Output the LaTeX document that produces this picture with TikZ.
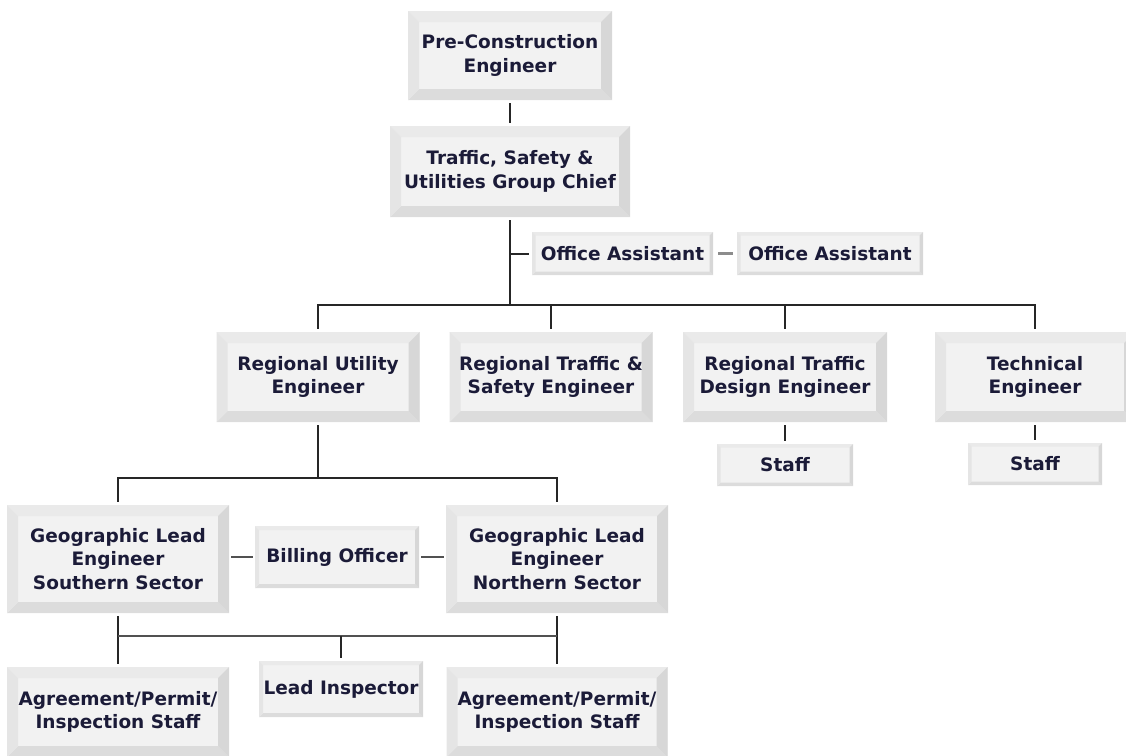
\documentclass[tikz,border=0pt]{standalone}
\usepackage{fontspec}
\setmainfont{DejaVu Sans}
\usepackage{tikz}
\usetikzlibrary{positioning}
\definecolor{facegray}{HTML}{F2F2F2}
\definecolor{toplight}{HTML}{EAEAEA}
\definecolor{leftlight}{HTML}{E5E5E5}
\definecolor{rightdark}{HTML}{D7D7D7}
\definecolor{bottomdark}{HTML}{DCDCDC}
\definecolor{inkblue}{HTML}{1B1B38}
\definecolor{linegray}{HTML}{262626}
\definecolor{midgray}{HTML}{8C8C8C}
\tikzset{bevelled/.style={path picture={
  \fill[toplight] (path picture bounding box.north west) -- (path picture bounding box.north east) -- ([xshift=-#1,yshift=-#1]path picture bounding box.north east) -- ([xshift=#1,yshift=-#1]path picture bounding box.north west) -- cycle;
  \fill[bottomdark] (path picture bounding box.south west) -- (path picture bounding box.south east) -- ([xshift=-#1,yshift=#1]path picture bounding box.south east) -- ([xshift=#1,yshift=#1]path picture bounding box.south west) -- cycle;
  \fill[leftlight] (path picture bounding box.north west) -- (path picture bounding box.south west) -- ([xshift=#1,yshift=#1]path picture bounding box.south west) -- ([xshift=#1,yshift=-#1]path picture bounding box.north west) -- cycle;
  \fill[rightdark] (path picture bounding box.north east) -- (path picture bounding box.south east) -- ([xshift=-#1,yshift=#1]path picture bounding box.south east) -- ([xshift=-#1,yshift=-#1]path picture bounding box.north east) -- cycle;
}}}
\tikzstyle{orgbox} = [rectangle, fill=facegray, text=inkblue, font=\bfseries\fontsize{18.5}{23.5}\selectfont, align=center, inner sep=0pt]
\tikzstyle{bigbox} = [orgbox, minimum height=90pt, bevelled=11pt]
\tikzstyle{smallbox} = [orgbox, minimum height=42pt, bevelled=3.5pt]
\tikzstyle{tie} = [draw=linegray, line width=2pt, shorten <=3pt, shorten >=3pt]
\tikzstyle{thintie} = [draw=linegray!80, line width=1.3pt, shorten <=2pt, shorten >=2pt]
\tikzstyle{greytie} = [draw=midgray, line width=3pt, shorten <=5pt, shorten >=4pt]

\begin{document}
\begin{tikzpicture}[x=1pt, y=-1pt]
\useasboundingbox (0,0) rectangle (1126,755);

\node (precon) [bigbox, minimum width=204pt, minimum height=89pt] at (510,55.5) {Pre-Construction\\Engineer};
\node (chief) [bigbox, minimum width=240pt, minimum height=91pt] at (510,171.5) {Traffic, Safety \&\\Utilities Group Chief};
\node (oa1) [smallbox, minimum width=181pt, minimum height=43pt] at (622.5,253.5) {Office Assistant};
\node (oa2) [smallbox, minimum width=186pt, minimum height=43pt] at (830,253.5) {Office Assistant};
\node (rue) [bigbox, minimum width=203pt] at (318,377) {Regional Utility\\Engineer};
\node (rtse) [bigbox, minimum width=203pt] at (551,377) {Regional Traffic \&\\Safety Engineer};
\node (rtde) [bigbox, minimum width=204pt] at (785,377) {Regional Traffic\\Design Engineer};
\node (tech) [bigbox, minimum width=200pt] at (1035,377) {Technical\\Engineer};
\node (staffa) [smallbox, minimum width=136pt] at (785,465) {Staff};
\node (staffb) [smallbox, minimum width=134pt] at (1035,464) {Staff};
\node (geos) [bigbox, minimum width=222pt, minimum height=108pt] at (118,559) {Geographic Lead\\Engineer\\Southern Sector};
\node (billing) [smallbox, minimum width=164pt, minimum height=62pt, bevelled=4pt] at (337,557) {Billing Officer};
\node (geon) [bigbox, minimum width=222pt, minimum height=108pt] at (557,559) {Geographic Lead\\Engineer\\Northern Sector};
\node (agl) [bigbox, minimum width=222pt] at (118,712) {Agreement/Permit/\\Inspection Staff};
\node (lead) [smallbox, minimum width=164pt, minimum height=56pt, bevelled=4pt] at (341,689) {Lead Inspector};
\node (agr) [bigbox, minimum width=221pt] at (557,712) {Agreement/Permit/\\Inspection Staff};

\coordinate (hub) at (510,305);
\coordinate (oatap) at (510,253.5);
\coordinate (hubb) at (318,478);
\coordinate (hubc) at (341,636);

\draw [tie] (precon.south) -- (chief.north);
\draw [tie, shorten >=0pt] (chief.south) -- (hub);
\draw [tie, shorten <=0pt] (oatap) -- (oa1.west);
\draw [greytie] (oa1.east) -- (oa2.west);
\draw [tie] (rue.north) -- (rue.north |- hub) -- (tech.north |- hub) -- (tech.north);
\draw [tie, shorten <=0pt] (rtse.north |- hub) -- (rtse.north);
\draw [tie, shorten <=0pt] (rtde.north |- hub) -- (rtde.north);
\draw [tie] (rtde.south) -- (staffa.north);
\draw [tie] (tech.south) -- (staffb.north);
\draw [tie, shorten >=0pt] (rue.south) -- (hubb);
\draw [tie] (geos.north) -- (geos.north |- hubb) -- (geon.north |- hubb) -- (geon.north);
\draw [thintie] (billing.west -| geos.east) -- (billing.west);
\draw [thintie] (billing.east) -- (billing.east -| geon.west);
\draw [tie] (geos.south) -- (agl.north);
\draw [tie] (geon.south) -- (agr.north);
\draw [thintie, shorten <=0pt, shorten >=0pt] (geos.south |- hubc) -- (geon.south |- hubc);
\draw [tie, shorten <=0pt] (hubc) -- (lead.north);

\end{tikzpicture}
\end{document}
